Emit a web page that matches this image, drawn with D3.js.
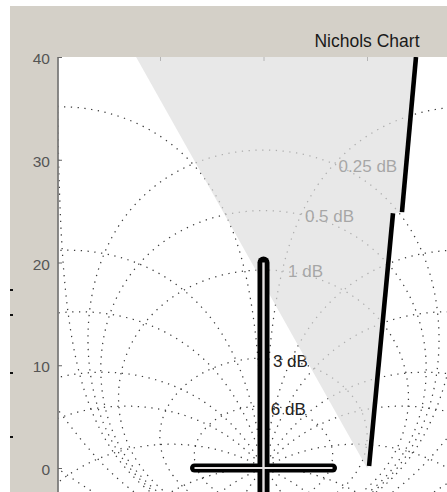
<!DOCTYPE html>
<html><head><meta charset="utf-8">
<script src="https://cdn.jsdelivr.net/npm/d3@7"></script>
<style>html,body{margin:0;padding:0;background:#fff;overflow:hidden}svg{display:block}</style>
</head><body>
<svg id="c" width="447" height="492"></svg>
<script>
// ---------- data ----------
const Y_TICKS = [0, 10, 20, 30, 40];
const X_TICKS = [-270, -225, -180, -135, -90, -45, 0];
const GAIN_CONTOURS_DB = [6, 3, 1, 0.5, 0.25, 0, -1, -3, -6, -12, -20];
const PHASE_CONTOURS_DEG = [-1, -5, -10, -20, -30, -50, -90, -120, -150, -180,
  -210, -240, -270, -310, -330, -340, -350, -355, -359];
const LABEL_TEXT = ["0.25 dB", "0.5 dB", "1 dB", "3 dB", "6 dB"];
const LABEL_PHASE = [-134.6, -151.3, -161.7, -168.3, -169.2];
const LABEL_GAIN = [29.3, 24.5, 19.1, 10.35, 5.7];
const RESP1_PHASE = [-113.7, -119.8];
const RESP1_GAIN = [40, 24.9];
const RESP2_PHASE = [-123.7, -134.1];
const RESP2_GAIN = [24.8, 0.2];
const REGION_PHASE = [-235.4, -113.7, -119.8, -123.7, -134.1, -135];
const REGION_GAIN = [40, 40, 24.9, 24.8, 0.2, 0];
const MARK_V_PHASE = [-180, -180];
const MARK_V_GAIN = [20, -12];
const MARK_H_PHASE = [-210, -150];
const MARK_H_GAIN = [0, 0];
const TITLE = "Nichols Chart";

// ---------- setup ----------
const W = 447, H = 492;
const svg = d3.select("#c");
const x = d3.scaleLinear().domain([-270, 0]).range([56.5, 677.5]);
const y = d3.scaleLinear().domain([0, 40]).range([468, 57]);
const FONT = "'Liberation Sans', Arial, Helvetica, sans-serif";

svg.append("rect").attr("width", W).attr("height", H).attr("fill", "#ffffff");
svg.append("rect").attr("x", 10).attr("y", 6).attr("width", W - 10).attr("height", H - 6).attr("fill", "#d4d0c8");

// cropped pieces of the rotated y label at the figure edge
svg.selectAll("rect.mk").data([289, 314, 372, 436]).enter().append("rect")
  .attr("class", "mk").attr("x", 10).attr("y", d => d).attr("width", 3).attr("height", 2).attr("fill", "#111");

const defs = svg.append("defs");
defs.append("clipPath").attr("id", "plotclip").append("rect")
  .attr("x", 58.5).attr("y", y(40)).attr("width", x(0) - 58.5).attr("height", 700);

svg.append("rect").attr("x", 58.5).attr("y", y(40)).attr("width", x(0) - 58.5).attr("height", 700).attr("fill", "#fff");

const plot = svg.append("g").attr("clip-path", "url(#plotclip)");

// ---------- Nichols grid ----------
function gainContour(mdb) {
  const M = Math.pow(10, mdb / 20), pts = [];
  if (Math.abs(M - 1) < 1e-9) {
    for (let p = -269.95; p <= -90.05; p += 0.05) {
      const c = Math.cos(p * Math.PI / 180);
      pts.push([p, 20 * Math.log10(-0.5 / c)]);
    }
  } else if (M < 1) {
    const M2 = M * M;
    for (let p = -360; p <= 0.0001; p += 0.1) {
      const c = Math.cos(p * Math.PI / 180);
      const r = (M2 * c + M * Math.sqrt(M2 * c * c + 1 - M2)) / (1 - M2);
      pts.push([p, 20 * Math.log10(r)]);
    }
  } else {
    const M2 = M * M, cx = -M2 / (M2 - 1), R = M / (M2 - 1);
    for (let i = 0; i <= 4000; i++) {
      const t = 2 * Math.PI * i / 4000;
      const gx = cx + R * Math.cos(t), gy = R * Math.sin(t);
      let a = Math.atan2(gy, gx) * 180 / Math.PI;
      if (a > 0) a -= 360;
      pts.push([a, 20 * Math.log10(Math.hypot(gx, gy))]);
    }
  }
  return pts;
}
function phaseContour(psi) {
  const pr = psi * Math.PI / 180, pts = [];
  let prev = null;
  const N = 60000;
  for (let i = 0; i <= N; i++) {
    const m = Math.pow(10, -3 + 6 * i / N);
    const tx = m * Math.cos(pr), ty = m * Math.sin(pr);
    const dx = 1 - tx, dy = -ty, den = dx * dx + dy * dy;
    const gx = (tx * dx + ty * dy) / den, gy = (ty * dx - tx * dy) / den;
    let a = Math.atan2(gy, gx) * 180 / Math.PI;
    const ref = prev === null ? psi : prev;
    a += 360 * Math.round((ref - a) / 360);
    prev = a;
    pts.push([a, 20 * Math.log10(Math.hypot(gx, gy))]);
  }
  return pts;
}
function toPixelPaths(pts) {
  const segs = []; let cur = []; let last = null;
  for (const [p, g] of pts) {
    if (!(g > -30 && g < 60)) { if (cur.length > 1) segs.push(cur); cur = []; last = null; continue; }
    const px = x(p), py = y(g);
    if (last && Math.hypot(px - last[0], py - last[1]) < 1) continue;
    cur.push([px, py]); last = [px, py];
  }
  if (cur.length > 1) segs.push(cur);
  return segs;
}
const allContours = GAIN_CONTOURS_DB.map(gainContour).concat(PHASE_CONTOURS_DEG.map(phaseContour));
const gridSegs = [];
allContours.forEach(pts => toPixelPaths(pts).forEach(s => gridSegs.push(s)));
const pixLine = d3.line();
plot.append("g").selectAll("path").data(gridSegs).enter().append("path")
  .attr("d", pixLine).attr("fill", "none").attr("stroke", "#3c3c3c")
  .attr("stroke-width", 1.25).attr("stroke-dasharray", "1.3 5.5");

// ---------- axes ----------
const yAxis = d3.axisLeft(y).tickValues(Y_TICKS).tickSizeInner(-4).tickSizeOuter(0).tickPadding(8);
const gy = svg.append("g").attr("transform", "translate(58,0)").call(yAxis);
gy.select(".domain").remove();
gy.selectAll(".tick line").attr("stroke", "#666");
gy.selectAll(".tick text").attr("fill", "#555").attr("dy", "0.42em")
  .style("font-family", FONT).style("font-size", "15.5px");

const xAxis = d3.axisTop(x).tickValues(X_TICKS).tickSize(-4).tickFormat("");
const gx = plot.append("g").attr("transform", `translate(0,${y(40)})`).call(xAxis);
gx.select(".domain").remove();
gx.selectAll(".tick line").attr("stroke", "#555");

// grid labels
plot.append("g").selectAll("text").data(LABEL_TEXT).enter().append("text")
  .attr("x", (d, i) => x(LABEL_PHASE[i])).attr("y", (d, i) => y(LABEL_GAIN[i]))
  .attr("text-anchor", "middle").attr("dominant-baseline", "central")
  .attr("fill", "#222").style("font-family", FONT).style("font-size", "17px")
  .text(d => d);

// shaded region
const dataLine = d3.line().x(d => x(d[0])).y(d => y(d[1]));
plot.append("path").datum(REGION_PHASE.map((p, i) => [p, REGION_GAIN[i]]))
  .attr("d", d => dataLine(d) + "Z").attr("fill", "#dedede").attr("fill-opacity", 0.7).attr("stroke", "none");

// response lines
[[RESP1_PHASE, RESP1_GAIN], [RESP2_PHASE, RESP2_GAIN]].forEach(([ph, gn]) => {
  plot.append("path").datum(ph.map((p, i) => [p, gn[i]]))
    .attr("d", dataLine).attr("fill", "none").attr("stroke", "#000").attr("stroke-width", 4.6);
});

// cross marker at the critical point
const vData = MARK_V_PHASE.map((p, i) => [p, MARK_V_GAIN[i]]);
const hData = MARK_H_PHASE.map((p, i) => [p, MARK_H_GAIN[i]]);
plot.append("path").datum(vData).attr("d", dataLine).attr("stroke", "#000").attr("stroke-width", 12).attr("stroke-linecap", "round").attr("fill", "none");
plot.append("path").datum(hData).attr("d", dataLine).attr("stroke", "#000").attr("stroke-width", 9).attr("stroke-linecap", "round").attr("fill", "none");
plot.append("path").datum(vData).attr("d", dataLine).attr("stroke", "#e4e0e0").attr("stroke-width", 2.4).attr("fill", "none");
plot.append("path").datum(hData).attr("d", dataLine).attr("stroke", "#e4e0e0").attr("stroke-width", 2).attr("fill", "none");

// left axis line
svg.append("line").attr("x1", 58).attr("x2", 58).attr("y1", y(40)).attr("y2", H)
  .attr("stroke", "#6a6a6a").attr("stroke-width", 1.5);

// title
svg.append("text").attr("x", x(-135)).attr("y", 46.5).attr("text-anchor", "middle")
  .attr("fill", "#1a1a1a").style("font-family", FONT).style("font-size", "17.5px").text(TITLE);
</script>
</body></html>
